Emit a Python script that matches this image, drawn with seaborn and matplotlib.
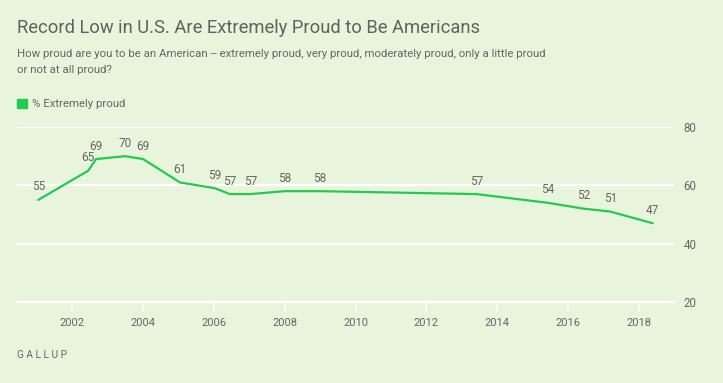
import matplotlib
matplotlib.use('Agg')
import matplotlib.pyplot as plt
from matplotlib.patches import Patch
import seaborn as sns
import pandas as pd

# --- data (survey dates as fractional years) ---
years = [2001.04, 2002.45, 2002.67, 2003.50, 2004.00, 2005.04, 2006.03, 2006.45,
         2007.03, 2008.00, 2009.00, 2013.41, 2015.43, 2016.44, 2017.19, 2018.39]
extremely_proud = [55, 65, 69, 70, 69, 61, 59, 57, 57, 58, 58, 57, 54, 52, 51, 47]
x_ticks = [2002, 2004, 2006, 2008, 2010, 2012, 2014, 2016, 2018]
y_ticks = [20, 40, 60, 80]

df = pd.DataFrame({'year': years, 'pct': extremely_proud})

# --- style ---
BG = '#e8f5dc'
GREEN = '#22cb4f'
GREY = '#666666'
FONT = ['Roboto', 'Liberation Sans', 'DejaVu Sans']

sns.set_theme(style='white')
plt.rcParams['font.family'] = FONT

fig = plt.figure(figsize=(7.23, 3.83), dpi=100, facecolor=BG)
ax = fig.add_axes([0.0235, 0.2115, 0.9087, 0.4569])
ax.set_facecolor(BG)

sns.lineplot(data=df, x='year', y='pct', color=GREEN, linewidth=1.6, ax=ax)

# value labels
for yr, v in zip(years, extremely_proud):
    ax.annotate(str(v), (yr, v), xytext=(0, 9.4), textcoords='offset points',
                ha='center', va='center', fontsize=8.5, color=GREY)

ax.set_xlim(2000.44, 2018.99)
ax.set_ylim(20, 80)
ax.set_xticks(x_ticks)
ax.set_yticks(y_ticks)
ax.set_xticklabels([str(t) for t in x_ticks], fontsize=8, color=GREY)
ax.set_yticklabels([str(t) for t in y_ticks], fontsize=8.3, color=GREY)
ax.yaxis.tick_right()
ax.set_xlabel('')
ax.set_ylabel('')
ax.grid(axis='y', color='white', linewidth=1.6)
ax.grid(axis='x', visible=False)
ax.tick_params(axis='x', length=6.5, width=1.2, color='white', pad=5, bottom=True)
ax.tick_params(axis='y', length=0, pad=7)
for s in ['top', 'right', 'left']:
    ax.spines[s].set_visible(False)
ax.spines['bottom'].set_color('white')
ax.spines['bottom'].set_linewidth(1.6)
ax.spines['bottom'].set_zorder(0)
ax.set_axisbelow(True)

# titles
fig.text(17 / 723, 1 - 32.7 / 383, 'Record Low in U.S. Are Extremely Proud to Be Americans',
         fontsize=13.2, color='#606060', va='baseline', ha='left')
fig.text(17 / 723, 1 - 57.3 / 383,
         'How proud are you to be an American -- extremely proud, very proud, moderately proud, only a little proud',
         fontsize=8.2, color=GREY, va='baseline', ha='left')
fig.text(17 / 723, 1 - 73.3 / 383, 'or not at all proud?',
         fontsize=8.2, color=GREY, va='baseline', ha='left')

fig.legend(handles=[Patch(color=GREEN)], labels=['% Extremely proud'],
           loc='center left', bbox_to_anchor=(17 / 723, 1 - 104 / 383),
           frameon=False, borderpad=0, borderaxespad=0,
           handlelength=0.88, handleheight=0.88, handletextpad=0.45,
           prop={'size': 8.2}, labelcolor=GREY)

fig.text(17 / 723, 1 - 355 / 383, 'G A L L U P', fontsize=7.3, color=GREY,
         va='center', ha='left')

fig.savefig('out.png', dpi=100, facecolor=BG)
